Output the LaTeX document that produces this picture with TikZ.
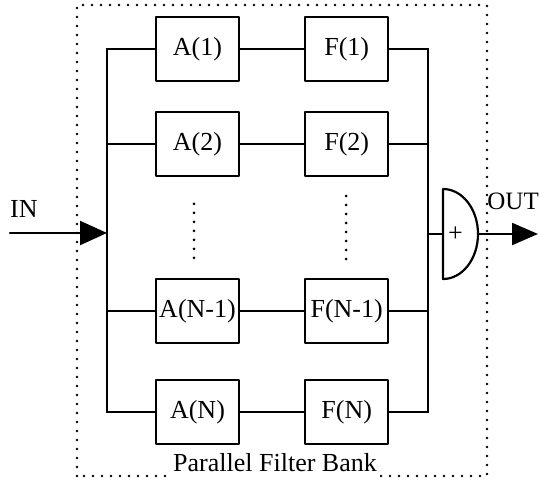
\documentclass[tikz,border=0pt]{standalone}
\usepackage{fontspec}
\setmainfont{Liberation Serif}
\usetikzlibrary{positioning,arrows.meta}
\tikzset{
  filt/.style={draw, line width=2.2pt, minimum width=83pt, minimum height=64pt, inner sep=0pt},
  wire/.style={line width=2.2pt},
  vdots/.style={line width=3pt, line cap=round, dash pattern=on 0pt off 9pt},
}
\begin{document}
\begin{tikzpicture}[x=1pt,y=1pt, line cap=round, line join=round, font=\fontsize{26}{30}\selectfont]
\useasboundingbox (0,0) rectangle (540,481);

% Dotted frame
\draw[line width=2.8pt, dash pattern=on 0pt off 9pt] (77,5) rectangle (487,476);
\node (title) [fill=white, inner xsep=3pt, inner ysep=6pt, anchor=base] at (275,9) {Parallel Filter Bank};

% Buses
\coordinate (lt) at (107,432);
\coordinate (lb) at (107,69);
\coordinate (rt) at (428,432);
\coordinate (rb) at (428,69);
\draw[wire] (lt) -- (lb);
\draw[wire] (rt) -- (rb);

% Filter rows
\node (a1) [filt] at (197.5,432) {A(1)};
\node (f1) [filt, right=64pt of a1] {F(1)};
\node (a2) [filt] at (197.5,337) {A(2)};
\node (f2) [filt, right=64pt of a2] {F(2)};
\node (an1) [filt] at (197.5,170) {A(N-1)};
\node (fn1) [filt, right=64pt of an1] {F(N-1)};
\node (an) [filt] at (197.5,69) {A(N)};
\node (fn) [filt, right=64pt of an] {F(N)};

\draw[wire] (lt) -- (a1) -- (f1) -- (rt);
\draw[wire] (a2 -| lt) -- (a2) -- (f2) -- (f2 -| rt);
\draw[wire] (an1 -| lt) -- (an1) -- (fn1) -- (fn1 -| rt);
\draw[wire] (lb) -- (an) -- (fn) -- (rb);

% Dots between rows
\draw[vdots] (194,277) -- (194,223);
\draw[vdots] (346,285) -- (346,222);

% Input
\coordinate (in) at (10,248);
\draw[wire, -{Triangle[length=27pt, width=24pt]}] (in) -- (in -| lt);
\node (inlbl) [anchor=base west, inner sep=0pt] at (10,263) {IN};

% Adder
\coordinate (sum) at (443,247);
\draw[wire] (443,292) -- (443,202) arc[start angle=-90, end angle=90, x radius=35, y radius=45];
\draw[wire] (sum -| rt) -- (sum);
\node (plus) [right=5pt of sum, inner sep=0pt] {+};

% Output
\coordinate (sumout) at (478,247);
\coordinate (out) at (538,247);
\draw[wire, -{Triangle[length=26pt, width=22pt]}] (sumout) -- (out);
\node (outlbl) [anchor=base east, inner sep=0pt, font=\fontsize{25}{30}\selectfont] at (539,271) {OUT};
\end{tikzpicture}
\end{document}
